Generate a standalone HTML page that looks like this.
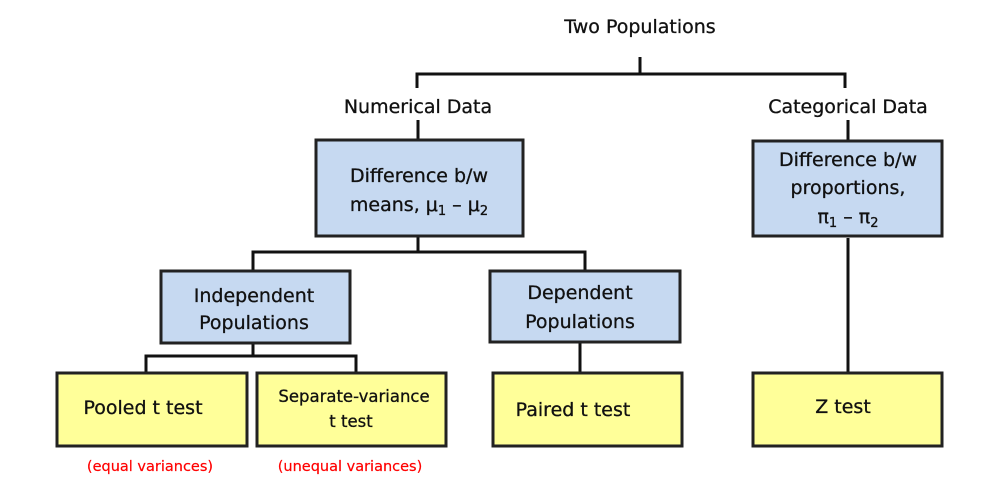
<!DOCTYPE html>
<html><head><meta charset="utf-8"><style>
html,body{margin:0;padding:0;background:#fff;}
svg{display:block;}
text{font-family:"DejaVu Sans","Liberation Sans",sans-serif;fill:#111;stroke:#111;stroke-width:0.3;}
</style></head><body>
<svg width="990" height="492" viewBox="0 0 990 492" xmlns="http://www.w3.org/2000/svg">
<g stroke="#111" stroke-width="3" fill="none">
<path d="M640 57V74M417 88V74H845V88"/>
<path d="M418 120V140"/>
<path d="M848 120V141"/>
<path d="M418 236V252M253 271V252H585V271"/>
<path d="M253 343V356M146 373V356H356V373"/>
<path d="M580 342V373"/>
<path d="M848 238V373"/>
</g>
<g stroke="#222" stroke-width="3">
<rect x="316" y="140" width="207" height="96" fill="#c6d9f1"/>
<rect x="753" y="141" width="189" height="95" fill="#c6d9f1"/>
<rect x="161" y="271" width="189" height="72" fill="#c6d9f1"/>
<rect x="490" y="271" width="190" height="71" fill="#c6d9f1"/>
<rect x="57" y="373" width="190" height="73" fill="#ffff99"/>
<rect x="257" y="373" width="189" height="73" fill="#ffff99"/>
<rect x="493" y="373" width="189" height="73" fill="#ffff99"/>
<rect x="753" y="373" width="189" height="73" fill="#ffff99"/>
</g>
<g font-size="19" text-anchor="middle">
<text x="640" y="33">Two Populations</text>
<text x="418" y="113">Numerical Data</text>
<text x="848" y="113">Categorical Data</text>
<text x="419" y="182">Difference b/w</text>
<text x="419" y="211">means, μ<tspan font-size="13" dy="4">1</tspan><tspan dy="-4"> – μ</tspan><tspan font-size="13" dy="4">2</tspan></text>
<text x="848" y="166">Difference b/w</text>
<text x="848" y="194">proportions,</text>
<text x="848" y="223">π<tspan font-size="13" dy="4">1</tspan><tspan dy="-4"> – π</tspan><tspan font-size="13" dy="4">2</tspan></text>
<text x="254" y="302">Independent</text>
<text x="254" y="329">Populations</text>
<text x="580" y="299">Dependent</text>
<text x="580" y="328">Populations</text>
<text x="143" y="414">Pooled t test</text>
<text x="573" y="416">Paired t test</text>
<text x="843" y="413">Z test</text>
</g>
<g font-size="16.5" text-anchor="middle">
<text x="354" y="402">Separate-variance</text>
<text x="351" y="427">t test</text>
</g>
<g font-size="14.5" text-anchor="middle">
<text x="150" y="471" style="fill:#f00;stroke:#f00;stroke-width:0.2">(equal variances)</text>
<text x="350" y="471" style="fill:#f00;stroke:#f00;stroke-width:0.2">(unequal variances)</text>
</g>
</svg>
</body></html>
